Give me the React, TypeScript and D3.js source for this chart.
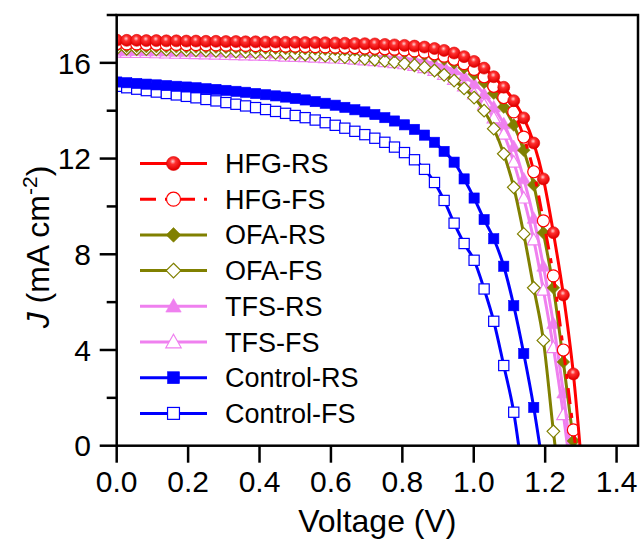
import React from 'react';
import * as d3 from 'd3';

const voltage = [0, 0.028, 0.056, 0.083, 0.111, 0.139, 0.167, 0.195, 0.222, 0.250, 0.278, 0.306, 0.334, 0.361, 0.389, 0.417, 0.445, 0.473, 0.500, 0.528, 0.556, 0.584, 0.612, 0.639, 0.667, 0.695, 0.723, 0.751, 0.778, 0.806, 0.834, 0.862, 0.890, 0.917, 0.945, 0.973, 1.001, 1.029, 1.056, 1.084, 1.112, 1.140, 1.168, 1.195, 1.223, 1.251, 1.279, 1.307];

const hfgRS = [16.95, 16.94, 16.94, 16.93, 16.93, 16.92, 16.92, 16.91, 16.91, 16.90, 16.90, 16.89, 16.89, 16.88, 16.88, 16.87, 16.87, 16.86, 16.86, 16.85, 16.85, 16.84, 16.83, 16.82, 16.81, 16.80, 16.79, 16.77, 16.75, 16.73, 16.70, 16.66, 16.60, 16.52, 16.41, 16.26, 16.06, 15.78, 15.42, 14.98, 14.42, 13.70, 12.65, 11.15, 8.9, 6.3, 3.0, -1.7];
const hfgFS = [16.80, 16.79, 16.79, 16.78, 16.78, 16.77, 16.77, 16.76, 16.76, 16.75, 16.75, 16.74, 16.74, 16.73, 16.72, 16.72, 16.71, 16.70, 16.70, 16.69, 16.68, 16.67, 16.66, 16.65, 16.64, 16.62, 16.61, 16.59, 16.57, 16.54, 16.50, 16.45, 16.38, 16.28, 16.15, 15.97, 15.73, 15.42, 15.02, 14.55, 13.95, 12.90, 11.45, 9.4, 7.1, 4.0, 0.66, -2.4];
const ofaRS = [16.70, 16.69, 16.69, 16.68, 16.68, 16.67, 16.67, 16.66, 16.66, 16.65, 16.65, 16.64, 16.64, 16.63, 16.62, 16.62, 16.61, 16.60, 16.60, 16.59, 16.58, 16.57, 16.56, 16.55, 16.54, 16.52, 16.51, 16.49, 16.47, 16.44, 16.40, 16.34, 16.26, 16.15, 16.00, 15.80, 15.53, 15.18, 14.73, 14.15, 13.40, 12.35, 10.90, 8.9, 6.6, 3.5, 0.2, -3.2];
const ofaFS = [16.60, 16.59, 16.58, 16.57, 16.56, 16.55, 16.54, 16.53, 16.52, 16.51, 16.50, 16.48, 16.47, 16.46, 16.44, 16.43, 16.41, 16.39, 16.37, 16.35, 16.33, 16.30, 16.27, 16.24, 16.21, 16.17, 16.13, 16.08, 16.03, 15.97, 15.90, 15.81, 15.68, 15.50, 15.26, 14.93, 14.55, 14.00, 13.25, 12.20, 10.80, 8.85, 6.6, 4.4, 0.6, -3.0];
const tfsRS = [16.52, 16.51, 16.51, 16.50, 16.50, 16.49, 16.48, 16.48, 16.47, 16.46, 16.46, 16.45, 16.44, 16.43, 16.43, 16.42, 16.41, 16.40, 16.39, 16.38, 16.37, 16.36, 16.35, 16.33, 16.32, 16.30, 16.28, 16.26, 16.23, 16.19, 16.14, 16.07, 15.98, 15.86, 15.70, 15.45, 15.13, 14.70, 14.15, 13.45, 12.5, 11.15, 9.5, 7.5, 5.1, 2.2, -1.2];
const tfsFS = [16.45, 16.44, 16.43, 16.43, 16.42, 16.41, 16.40, 16.39, 16.38, 16.37, 16.36, 16.35, 16.34, 16.33, 16.32, 16.31, 16.30, 16.28, 16.27, 16.26, 16.24, 16.22, 16.20, 16.18, 16.15, 16.12, 16.09, 16.05, 16.01, 15.96, 15.89, 15.80, 15.68, 15.52, 15.31, 15.04, 14.70, 14.25, 13.70, 13.02, 11.85, 10.35, 8.6, 6.5, 4.1, 1.3, -1.9];
const controlRS = [15.20, 15.17, 15.14, 15.11, 15.08, 15.05, 15.02, 14.99, 14.96, 14.92, 14.89, 14.85, 14.81, 14.77, 14.72, 14.67, 14.62, 14.57, 14.51, 14.45, 14.38, 14.31, 14.23, 14.14, 14.04, 13.95, 13.84, 13.71, 13.57, 13.41, 13.22, 12.98, 12.68, 12.30, 11.85, 11.15, 10.35, 9.45, 8.65, 7.50, 5.85, 3.85, 1.6, -1.0];
const controlFS = [15.02, 14.96, 14.90, 14.84, 14.78, 14.72, 14.66, 14.60, 14.54, 14.47, 14.41, 14.34, 14.27, 14.20, 14.13, 14.05, 13.97, 13.89, 13.80, 13.71, 13.61, 13.50, 13.39, 13.27, 13.14, 13.00, 12.85, 12.68, 12.48, 12.25, 11.95, 11.55, 11.00, 10.25, 9.30, 8.45, 7.75, 6.55, 5.20, 3.35, 1.4, -1.6];

const seriesNames = ['HFG-RS', 'HFG-FS', 'OFA-RS', 'OFA-FS', 'TFS-RS', 'TFS-FS', 'Control-RS', 'Control-FS'];
const seriesValues = [hfgRS, hfgFS, ofaRS, ofaFS, tfsRS, tfsFS, controlRS, controlFS];
const seriesColors = ['#ff0000', '#ff0000', '#808000', '#808000', '#ef80ef', '#ef80ef', '#0000ff', '#0000ff'];
const seriesMarkers = ['circle', 'circle', 'diamond', 'diamond', 'triangle', 'triangle', 'square', 'square'];
const seriesFilled = [true, false, true, false, true, false, true, false];
const seriesDashed = [false, true, false, false, false, false, false, false];

const xTicks = [0, 0.2, 0.4, 0.6, 0.8, 1.0, 1.2, 1.4];
const yTicks = [0, 4, 8, 12, 16];
const yMinorTicks = [2, 6, 10, 14, 18];

const W = 643, H = 540;
const left = 116.7, right = 638, top = 15, bottom = 445.7;
const FONT = "'Liberation Sans', Arial, sans-serif";

const x = d3.scaleLinear().domain([0, 1.46]).range([left, right]);
const y = d3.scaleLinear().domain([0, 18]).range([bottom, top]);

function Marker({ type, cx, cy, s, color, filled }: any) {
  const fill = filled ? (type === 'circle' ? 'url(#ball)' : color) : '#ffffff';
  const stroke = color;
  const sw = filled ? 0.6 : 1.2;
  if (type === 'circle') {
    return <circle cx={cx} cy={cy} r={s} fill={fill} stroke={filled ? '#e00000' : stroke} strokeWidth={sw} />;
  }
  if (type === 'square') {
    const h = s * 0.85;
    return <rect x={cx - h} y={cy - h} width={2 * h} height={2 * h} fill={fill} stroke={stroke} strokeWidth={sw} />;
  }
  if (type === 'diamond') {
    const d = s * 1.05;
    return <path d={`M${cx},${cy - d}L${cx + d},${cy}L${cx},${cy + d}L${cx - d},${cy}Z`} fill={fill} stroke={stroke} strokeWidth={sw} />;
  }
  const a = s * 1.1;
  return <path d={`M${cx},${cy - a}L${cx + a},${cy + a * 0.75}L${cx - a},${cy + a * 0.75}Z`} fill={fill} stroke={stroke} strokeWidth={sw} />;
}

export default function App() {
  const line = d3.line<[number, number]>().x(d => x(d[0])).y(d => y(d[1])).curve(d3.curveMonotoneX);
  const order = [7, 6, 5, 4, 3, 2, 1, 0];
  const dash = '16 9 5 9';
  return (
    <svg width={W} height={H} style={{ position: 'absolute', left: 0, top: 0, background: '#fff' }} fontFamily={FONT}>
      <defs>
        <clipPath id="plot">
          <rect x={left} y={top} width={right - left} height={bottom - top} />
        </clipPath>
        <radialGradient id="ball" cx="0.45" cy="0.35" r="0.6">
          <stop offset="0" stopColor="#ffd0d0" />
          <stop offset="0.35" stopColor="#ff3030" />
          <stop offset="1" stopColor="#e00000" />
        </radialGradient>
      </defs>
      <rect x={0} y={0} width={W} height={H} fill="#fff" />
      <g clipPath="url(#plot)">
        {order.map(i => {
          const pts: [number, number][] = seriesValues[i].map((v, k) => [voltage[k], v]);
          return (
            <g key={seriesNames[i]}>
              <path d={line(pts) || ''} fill="none" stroke={seriesColors[i]} strokeWidth={3}
                strokeDasharray={seriesDashed[i] ? dash : undefined} />
              {pts.filter(p => p[1] > -0.5).map((p, k) => (
                <Marker key={k} type={seriesMarkers[i]} cx={x(p[0])} cy={y(p[1])} s={6} color={seriesColors[i]} filled={seriesFilled[i]} />
              ))}
            </g>
          );
        })}
      </g>
      <rect x={left} y={top} width={right - left} height={bottom - top} fill="none" stroke="#000" strokeWidth={2.5} />
      {xTicks.map(t => (
        <g key={'x' + t}>
          <line x1={x(t)} x2={x(t)} y1={bottom} y2={bottom + 17} stroke="#000" strokeWidth={2.5} />
          <text x={x(t)} y={492} textAnchor="middle" fontSize={30} fill="#000">{t.toFixed(1)}</text>
        </g>
      ))}
      {yTicks.map(t => (
        <g key={'y' + t}>
          <line x1={left - 17} x2={left} y1={y(t)} y2={y(t)} stroke="#000" strokeWidth={2.5} />
          <text x={91} y={y(t) + 10.7} textAnchor="end" fontSize={30} fill="#000">{t}</text>
        </g>
      ))}
      {yMinorTicks.map(t => (
        <line key={'m' + t} x1={left - 10} x2={left} y1={y(t)} y2={y(t)} stroke="#000" strokeWidth={2.5} />
      ))}
      <text x={(left + right) / 2} y={532} textAnchor="middle" fontSize={32} fill="#000">Voltage (V)</text>
      <text transform={`translate(49, 247) rotate(-90)`} textAnchor="middle" fontSize={32} fill="#000">
        <tspan fontStyle="italic">J</tspan>
        <tspan> (mA cm</tspan>
        <tspan fontSize={21} dy={-12}>-2</tspan>
        <tspan dy={12}>)</tspan>
      </text>
      {seriesNames.map((name, i) => {
        const ry = 163.5 + i * 35.7;
        return (
          <g key={'l' + name}>
            <line x1={140} x2={207} y1={ry} y2={ry} stroke={seriesColors[i]} strokeWidth={3}
              strokeDasharray={seriesDashed[i] ? dash : undefined} />
            <Marker type={seriesMarkers[i]} cx={173.5} cy={ry} s={7} color={seriesColors[i]} filled={seriesFilled[i]} />
            <text x={225} y={ry + 9.5} fontSize={27} fill="#000">{name}</text>
          </g>
        );
      })}
    </svg>
  );
}
